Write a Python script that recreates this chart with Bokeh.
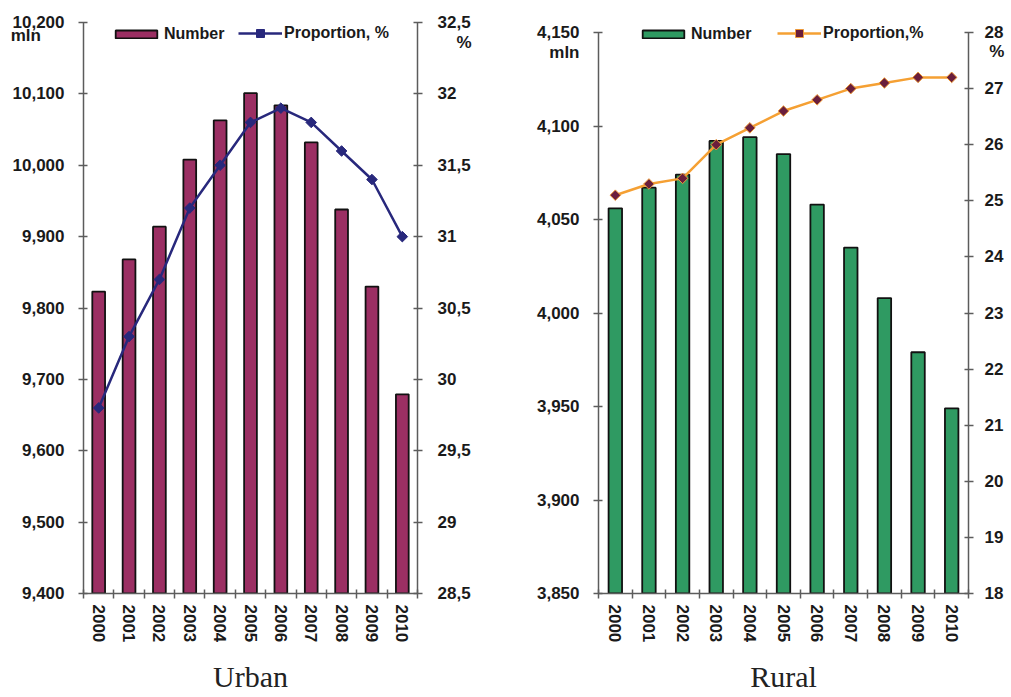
from math import pi
from bokeh.plotting import figure
from bokeh.models import Range1d, LinearAxis, FixedTicker, Legend, LegendItem
from bokeh.layouts import row
from bokeh.embed import file_html
from bokeh.resources import INLINE

years = ["2000", "2001", "2002", "2003", "2004", "2005", "2006", "2007", "2008", "2009", "2010"]

urban_number = [9823, 9868, 9914, 10008, 10063, 10101, 10084, 10032, 9938, 9830, 9679]
urban_pct = [29.8, 30.3, 30.7, 31.2, 31.5, 31.8, 31.9, 31.8, 31.6, 31.4, 31.0]
urban_num_ticks = [9400, 9500, 9600, 9700, 9800, 9900, 10000, 10100, 10200]
urban_pct_ticks = [28.5, 29, 29.5, 30, 30.5, 31, 31.5, 32, 32.5]

rural_number = [4056, 4067, 4074, 4092, 4094, 4085, 4058, 4035, 4008, 3979, 3949]
rural_pct = [25.1, 25.3, 25.4, 26.0, 26.3, 26.6, 26.8, 27.0, 27.1, 27.2, 27.2]
rural_num_ticks = [3850, 3900, 3950, 4000, 4050, 4100, 4150]
rural_pct_ticks = [18, 19, 20, 21, 22, 23, 24, 25, 26, 27, 28]

FONT = "Liberation Sans"
AXIS_COLOR = "#5c5c5c"
TEXT_COLOR = "#1a1a1a"
NB = "\u00a0"

H = 697
TOP = 22
BOTTOM = 104
FRAME_H = H - TOP - BOTTOM


def fmt_num(v):
    return f"{v:,}"


def fmt_pct(v):
    return str(v).replace(".", ",") if v != int(v) else str(int(v))


def style_axis(ax, standoff):
    ax.axis_line_color = AXIS_COLOR
    ax.axis_line_width = 1.5
    ax.major_tick_line_color = None
    ax.major_tick_in = 0
    ax.major_tick_out = 0
    ax.minor_tick_line_color = AXIS_COLOR
    ax.minor_tick_line_width = 1.5
    ax.minor_tick_in = 4
    ax.minor_tick_out = 5
    ax.major_label_text_font = FONT
    ax.major_label_text_font_style = "bold"
    ax.major_label_text_font_size = "17px"
    ax.major_label_text_color = TEXT_COLOR
    ax.major_label_standoff = standoff


def panel(numbers, pcts, num_ticks, pct_ticks, bar_color, line_color, mfill, mline,
          width, b_left, b_right, top_gap, pct_label, title,
          leg1_x, leg2_x, mln_text, mln_dy, pct_text, pct_dy, right_standoff, bar_w):
    xs = list(range(len(years)))
    tick_px = FRAME_H - top_gap          # pixels between lowest and highest tick
    n_lo, n_hi = num_ticks[0], num_ticks[-1]
    p_lo, p_hi = pct_ticks[0], pct_ticks[-1]
    n_per_px = (n_hi - n_lo) / tick_px
    p_per_px = (p_hi - p_lo) / tick_px

    p = figure(width=width, height=H, output_backend="svg", toolbar_location=None,
               title=None,
               x_range=Range1d(-0.5, len(years) - 0.5),
               y_range=Range1d(n_lo, n_lo + n_per_px * FRAME_H),
               min_border_left=b_left, min_border_right=b_right,
               min_border_top=TOP, min_border_bottom=BOTTOM,
               outline_line_color=None)
    p.xgrid.grid_line_color = None
    p.ygrid.grid_line_color = None
    p.extra_y_ranges = {"pct": Range1d(p_lo, p_lo + p_per_px * FRAME_H)}

    bars = p.vbar(x=xs, top=numbers, bottom=n_lo, width=bar_w,
                  fill_color=bar_color, line_color="#111111", line_width=1.8)
    ln = p.line(x=xs, y=pcts, y_range_name="pct", line_color=line_color, line_width=2.5)
    mk = p.scatter(x=xs, y=pcts, y_range_name="pct", marker="square", angle=pi / 4,
                   size=7.5, fill_color=mfill, line_color=mline, line_width=1)

    # x axis: year labels at bar centres, tick marks between the bars
    xa = p.xaxis[0]
    xa.ticker = FixedTicker(ticks=xs, minor_ticks=[x - 0.5 for x in xs] + [xs[-1] + 0.5])
    xa.major_label_overrides = {x: y for x, y in zip(xs, years)}
    style_axis(xa, 6)
    xa.major_label_orientation = "vertical"
    xa.axis_label = title
    xa.axis_label_text_font = "Liberation Serif"
    xa.axis_label_text_font_style = "normal"
    xa.axis_label_text_font_size = "30px"
    xa.axis_label_text_color = "#222222"
    xa.axis_label_standoff = 15

    # left axis (numbers), unit text "mln" under the top label
    mln_val = n_hi - mln_dy * n_per_px
    ya = p.yaxis[0]
    ya.ticker = FixedTicker(ticks=num_ticks + [mln_val], minor_ticks=num_ticks)
    ya.bounds = (n_lo, n_hi)
    ov = {t: fmt_num(t) for t in num_ticks}
    ov[mln_val] = mln_text
    ya.major_label_overrides = ov
    style_axis(ya, 14)

    # right axis (proportion), unit text "%" under the top label
    pct_val = p_hi - pct_dy * p_per_px
    rov = {t: fmt_pct(t) for t in pct_ticks}
    rov[pct_val] = pct_text
    ra = LinearAxis(y_range_name="pct",
                    ticker=FixedTicker(ticks=pct_ticks + [pct_val], minor_ticks=pct_ticks),
                    bounds=(p_lo, p_hi), major_label_overrides=rov)
    style_axis(ra, right_standoff)
    p.add_layout(ra, "right")

    leg_y = FRAME_H - 21
    leg1 = Legend(items=[LegendItem(label="Number", renderers=[bars])],
                  location=(leg1_x, leg_y), glyph_width=52, glyph_height=10,
                  label_standoff=2, padding=0, margin=0,
                  border_line_color=None, background_fill_alpha=0,
                  label_text_font=FONT, label_text_font_style="bold",
                  label_text_font_size="16px", label_text_color=TEXT_COLOR)
    leg2 = Legend(items=[LegendItem(label=pct_label, renderers=[ln, mk])],
                  location=(leg2_x, leg_y), glyph_width=44, glyph_height=20,
                  label_standoff=2, padding=0, margin=0,
                  border_line_color=None, background_fill_alpha=0,
                  label_text_font=FONT, label_text_font_style="bold",
                  label_text_font_size="16px", label_text_color=TEXT_COLOR)
    p.add_layout(leg1)
    p.add_layout(leg2)
    return p


p1 = panel(urban_number, urban_pct, urban_num_ticks, urban_pct_ticks,
           "#9B2F63", "#28287C", "#28287C", "#28287C",
           width=515, b_left=83, b_right=98, top_gap=0,
           pct_label="Proportion, %", title="Urban",
           leg1_x=27, leg2_x=155,
           mln_text="mln" + NB * 5, mln_dy=13, pct_text=NB * 4 + "%", pct_dy=20,
           right_standoff=15, bar_w=0.42)

p2 = panel(rural_number, rural_pct, rural_num_ticks, rural_pct_ticks,
           "#2F9A62", "#F5A033", "#6A1E3C", "#EE9A3A",
           width=496, b_left=83, b_right=43, top_gap=10,
           pct_label="Proportion,%", title="Rural",
           leg1_x=39, leg2_x=179,
           mln_text="mln", mln_dy=20, pct_text=NB + "%", pct_dy=19,
           right_standoff=11, bar_w=0.4)

layout = row(p1, p2)
open("out.html", "w").write(file_html(layout, INLINE))
